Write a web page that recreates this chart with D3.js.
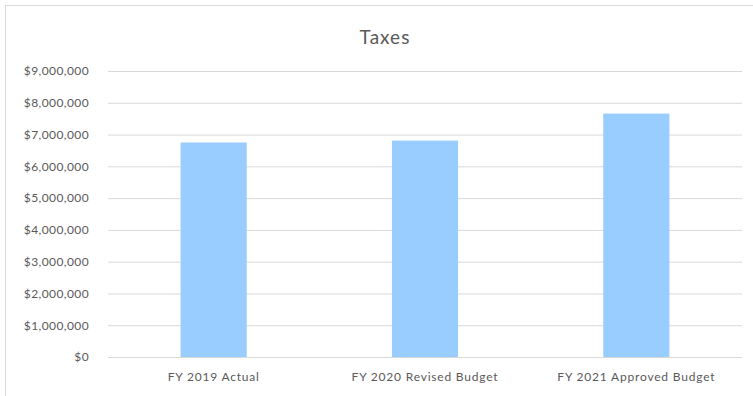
<!DOCTYPE html>
<html lang="en">
<head>
    <meta charset="UTF-8">
    <title>Taxes</title>
    <script src="https://cdn.jsdelivr.net/npm/d3@7"></script>
    <style>
        body { margin: 0; background: #fff; }
    </style>
</head>
<body>
<script>
    // data
    var categories = ["FY 2019 Actual", "FY 2020 Revised Budget", "FY 2021 Approved Budget"];
    var values = [6750000, 6810000, 7660000];
    var yTicks = [0, 1000000, 2000000, 3000000, 4000000, 5000000, 6000000, 7000000, 8000000, 9000000];

    var width = 753, height = 396;
    var margin = {top: 71, right: 11, bottom: 39, left: 108};
    var font = "Lato, 'Open Sans', sans-serif";

    var svg = d3.select("body")
                .append("svg")
                .attr("width", width)
                .attr("height", height);

    // chart border (cropped on the right and bottom)
    svg.append("rect")
        .attr("x", 5.5).attr("y", 5.5)
        .attr("width", width + 10).attr("height", height + 10)
        .attr("fill", "none")
        .attr("stroke", "#d9d9d9");

    var x = d3.scaleBand()
                .domain(categories)
                .range([margin.left, width - margin.right])
                .paddingInner(0.687)
                .paddingOuter(0.3435);
    var y = d3.scaleLinear()
                .domain([0, 9000000])
                .range([height - margin.bottom, margin.top]);

    var fmt = function (d) { return "$" + d3.format(",")(d); };

    // gridlines + y labels
    var yAxis = d3.axisLeft(y)
                .tickValues(yTicks)
                .tickFormat(fmt)
                .tickSize(-(width - margin.left - margin.right))
                .tickPadding(19);
    var gy = svg.append("g")
        .attr("transform", "translate(" + margin.left + ",0)")
        .call(yAxis);
    gy.select(".domain").remove();
    gy.selectAll("line").attr("stroke", "#d9d9d9").attr("stroke-width", 1);
    gy.selectAll("text")
        .attr("fill", "#595959")
        .style("font-family", font)
        .style("font-size", "12px")
        .style("letter-spacing", "0.4px");

    // bars
    svg.selectAll(".bar")
        .data(values)
        .enter()
        .append("rect")
        .attr("class", "bar")
        .attr("x", function (d, i) { return x(categories[i]); })
        .attr("y", function (d) { return y(d); })
        .attr("width", x.bandwidth())
        .attr("height", function (d) { return y(0) - y(d); })
        .attr("fill", "#99ccff");

    // x labels
    var xAxis = d3.axisBottom(x).tickSize(0).tickPadding(15);
    var gx = svg.append("g")
        .attr("transform", "translate(0," + y(0) + ")")
        .call(xAxis);
    gx.select(".domain").remove();
    gx.selectAll("text")
        .attr("fill", "#595959")
        .style("font-family", font)
        .style("font-size", "12px")
        .style("letter-spacing", "0.8px");

    // title
    svg.append("text")
        .attr("x", 385)
        .attr("y", 44)
        .attr("text-anchor", "middle")
        .attr("fill", "#595959")
        .style("font-family", font)
        .style("font-size", "19px")
        .style("letter-spacing", "1px")
        .text("Taxes");
</script>
</body>
</html>
